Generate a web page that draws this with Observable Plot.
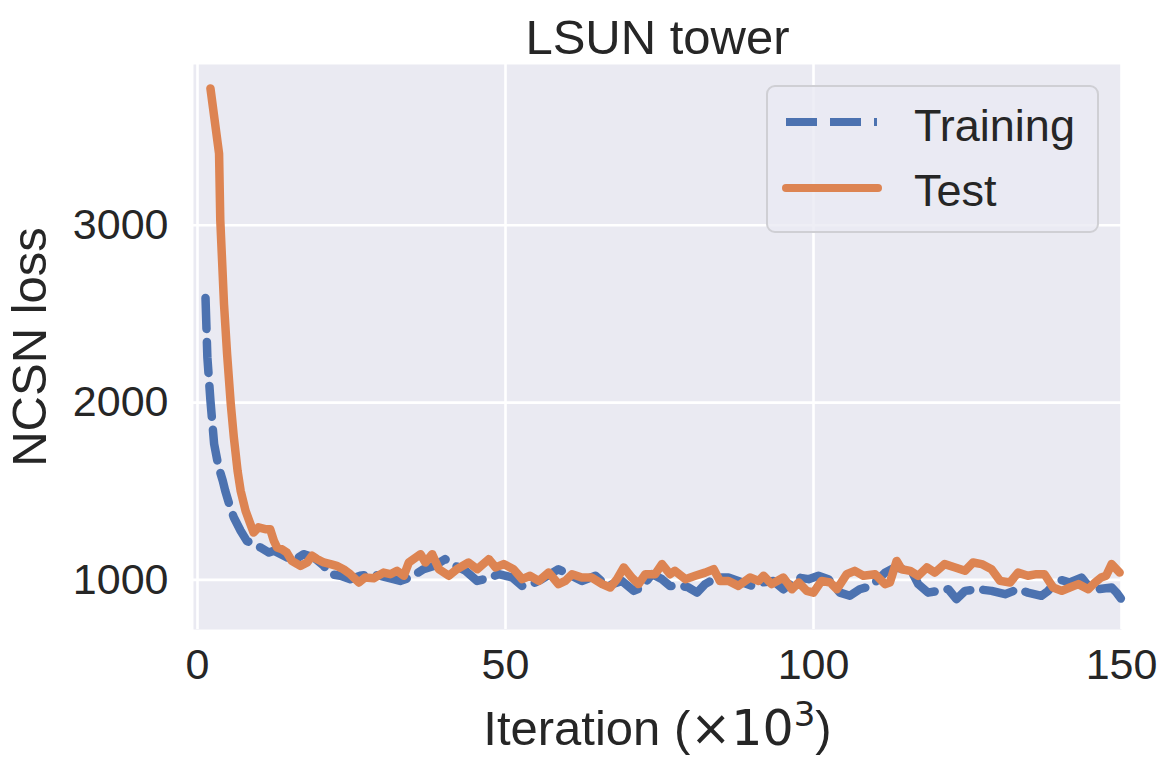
<!DOCTYPE html>
<html>
<head>
<meta charset="utf-8">
<script src="https://cdn.jsdelivr.net/npm/d3@7"></script>
<script src="https://cdn.jsdelivr.net/npm/@observablehq/plot@0.6"></script>
<style>
  html, body { margin: 0; padding: 0; background: #fff; }
  #wrap { position: relative; width: 1174px; height: 775px; font-family: "Liberation Sans", Arial, sans-serif; color: #262626; }
  #legend { position: absolute; left: 0; top: 0; }
</style>
</head>
<body>
<div id="wrap"></div>
<script>
const title = "LSUN tower";
const xLabel = "Iteration (×10³)";
const yLabel = "NCSN loss";
const xTicks = [0, 50, 100, 150];
const yTicks = [1000, 2000, 3000];
const seriesNames = ["Training", "Test"];
const seriesColors = ["#4c72b0", "#dd8452"];

const trainX = [1.3, 1.6, 2.1, 2.7, 3.4, 4.1, 4.5, 5.3, 5.9, 7.0, 8.0, 9.1, 10.2, 11.6, 12.4, 14.0, 15.6, 17.2, 18.9, 20.5, 21.6, 23.2, 24.8, 26.4, 28.1, 29.7, 31.8, 32.9, 34.5, 36.7, 38.5, 40.2, 41.3, 43.5, 45.4, 47.5, 48.9, 51.1, 52.7, 54.3, 55.9, 58.6, 60.2, 62.4, 64.6, 66.5, 68.9, 70.8, 72.1, 73.8, 75.4, 76.7, 78.6, 79.7, 81.1, 82.4, 84.3, 86.2, 87.8, 90.0, 91.6, 93.5, 95.1, 97.6, 99.2, 100.8, 102.4, 104.3, 105.9, 107.5, 109.4, 111.6, 113.2, 115.9, 117.0, 118.6, 120.3, 121.9, 123.2, 124.6, 126.7, 128.9, 131.1, 133.2, 134.8, 137.0, 138.1, 139.7, 141.6, 143.5, 144.6, 146.2, 148.4, 149.2, 149.9];
const trainY = [2590, 2256, 2011, 1766, 1640, 1559, 1503, 1409, 1352, 1277, 1220, 1201, 1183, 1154, 1164, 1136, 1107, 1145, 1126, 1079, 1032, 1023, 1004, 1023, 1032, 1023, 1004, 994, 1013, 1060, 1080, 1117, 1089, 1051, 994, 1013, 1032, 1013, 966, 976, 1004, 1060, 1032, 994, 1023, 966, 994, 938, 957, 1032, 1004, 966, 966, 957, 928, 976, 1013, 1013, 994, 966, 985, 994, 947, 1013, 1004, 1023, 1004, 928, 910, 947, 966, 1040, 1070, 1051, 976, 928, 938, 947, 891, 938, 947, 938, 919, 947, 928, 910, 938, 1004, 985, 1013, 966, 947, 957, 928, 895];

const testX = [2.1, 3.5, 3.7, 4.3, 4.8, 5.4, 5.9, 6.5, 7.0, 7.8, 8.6, 9.1, 9.9, 11.0, 11.8, 12.4, 12.9, 13.7, 14.5, 15.3, 16.7, 17.8, 18.6, 19.4, 20.5, 21.6, 22.6, 23.7, 24.8, 26.2, 27.2, 28.6, 30.2, 31.3, 32.4, 33.5, 34.3, 36.2, 37.0, 38.1, 39.2, 40.8, 42.1, 44.0, 45.4, 47.3, 48.4, 49.7, 51.3, 52.7, 54.0, 55.4, 57.0, 58.6, 59.7, 60.8, 62.4, 64.0, 65.7, 67.0, 68.1, 69.2, 70.5, 71.6, 72.7, 74.3, 75.4, 76.7, 77.5, 79.2, 80.8, 82.4, 83.8, 84.8, 86.2, 87.8, 89.7, 91.1, 91.9, 93.2, 95.1, 96.5, 97.6, 98.9, 100.0, 101.3, 102.7, 103.8, 105.4, 106.7, 108.1, 110.0, 111.6, 112.4, 113.5, 114.3, 115.7, 117.0, 118.4, 119.7, 121.3, 123.0, 124.6, 125.9, 127.3, 128.9, 130.3, 131.9, 133.2, 134.8, 136.2, 137.5, 138.9, 140.3, 141.6, 143.0, 144.6, 145.7, 146.7, 147.5, 148.4, 149.7];
const testY = [3772, 3405, 3028, 2557, 2275, 1992, 1804, 1616, 1503, 1390, 1314, 1267, 1296, 1286, 1286, 1220, 1183, 1173, 1154, 1107, 1079, 1098, 1136, 1117, 1098, 1089, 1079, 1060, 1032, 985, 1013, 1009, 1041, 1032, 1051, 1023, 1098, 1145, 1098, 1145, 1060, 1023, 1060, 1098, 1060, 1117, 1070, 1089, 1060, 1004, 1023, 994, 1041, 976, 994, 1032, 1013, 1013, 976, 957, 1004, 1070, 1013, 976, 1032, 1032, 1089, 1032, 1051, 1004, 1023, 1041, 1060, 994, 994, 966, 1013, 994, 1023, 976, 1013, 947, 985, 938, 928, 994, 985, 947, 1032, 1051, 1023, 1032, 976, 985, 1107, 1060, 1051, 1023, 1070, 1041, 1089, 1070, 1051, 1098, 1089, 1060, 994, 985, 1041, 1023, 1032, 1032, 957, 938, 957, 976, 947, 985, 1013, 1023, 1089, 1041];

const train = trainX.map((x, i) => ({x, y: trainY[i]}));
const test = testX.map((x, i) => ({x, y: testY[i]}));

const FONT = '"Liberation Sans", Arial, sans-serif';

const chart = Plot.plot({
  width: 1174,
  height: 775,
  marginLeft: 193,
  marginRight: 53,
  marginTop: 64,
  marginBottom: 146,
  style: {fontFamily: FONT, color: "#262626", background: "transparent"},
  x: {domain: [-0.65, 150]},
  y: {domain: [720, 3907]},
  marks: [
    Plot.frame({fill: "#eaeaf2", stroke: null}),
    Plot.gridX(xTicks, {stroke: "#fff", strokeOpacity: 1, strokeWidth: 2.6}),
    Plot.gridY(yTicks, {stroke: "#fff", strokeOpacity: 1, strokeWidth: 2.6}),
    Plot.axisX({ticks: xTicks, tickSize: 0, tickPadding: 19, fontSize: 43, tickFormat: d => String(d), label: xLabel, labelAnchor: "center", labelArrow: "none", labelOffset: 115}),
    Plot.axisY({ticks: yTicks, tickSize: 0, tickPadding: 25, fontSize: 43, tickFormat: d => String(d), label: yLabel, labelAnchor: "center", labelArrow: "none", labelOffset: 182}),
    Plot.line(train, {x: "x", y: "y", stroke: seriesColors[0], strokeWidth: 8.5, strokeDasharray: "31,13", strokeLinejoin: "round"}),
    Plot.line(test, {x: "x", y: "y", stroke: seriesColors[1], strokeWidth: 8.5, strokeLinecap: "round", strokeLinejoin: "round"}),
    Plot.text([title], {frameAnchor: "top", lineAnchor: "bottom", dy: -11, fontSize: 49, fill: "#262626", text: d => d})
  ]
});
chart.querySelectorAll("g[aria-label='x-axis label'] text, g[aria-label='y-axis label'] text").forEach(t => t.setAttribute("font-size", 49));
// render the ×10³ part like math text
const xl = chart.querySelector("g[aria-label='x-axis label'] text");
if (xl) {
  const parts = xLabel.match(/^(.*\()×10(.)(\))$/);
  if (parts) {
    xl.innerHTML = `${parts[1]}<tspan font-family="DejaVu Sans">×10</tspan><tspan font-family="DejaVu Sans" font-size="34" dy="-19">3</tspan><tspan dy="19">${parts[3]}</tspan>`;
  }
}
document.getElementById("wrap").appendChild(chart);

// legend overlay
const ns = "http://www.w3.org/2000/svg";
const lg = document.createElementNS(ns, "svg");
lg.setAttribute("id", "legend");
lg.setAttribute("width", 1174);
lg.setAttribute("height", 775);
lg.innerHTML = `
  <rect x="767" y="86" width="331" height="146" rx="8" ry="8" fill="rgba(234,234,242,0.8)" stroke="#cfcfd4" stroke-width="2"/>
  <line x1="786" y1="122" x2="877" y2="122" stroke="${seriesColors[0]}" stroke-width="8" stroke-dasharray="31,13"/>
  <line x1="786" y1="188" x2="878" y2="188" stroke="${seriesColors[1]}" stroke-width="8" stroke-linecap="round"/>
  <text x="914" y="141" font-size="45" fill="#262626" font-family='${FONT}'>${seriesNames[0]}</text>
  <text x="914" y="206" font-size="45" fill="#262626" font-family='${FONT}'>${seriesNames[1]}</text>`;
document.getElementById("wrap").appendChild(lg);
</script>
</body>
</html>
